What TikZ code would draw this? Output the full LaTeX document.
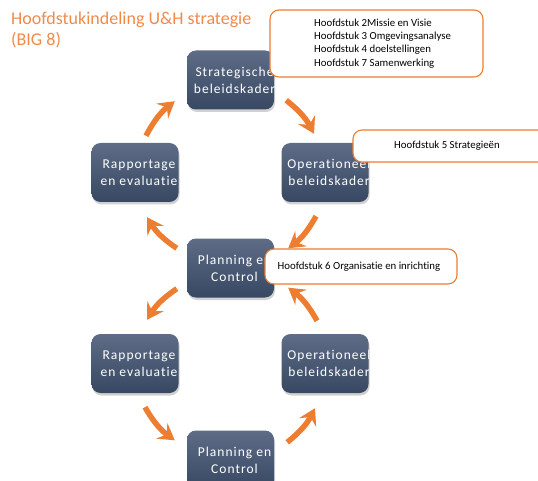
\documentclass[tikz,border=0pt]{standalone}
\usepackage{fontspec}
\setmainfont{Carlito}[Ligatures=NoCommon]
\newfontfamily\boxfont{Carlito}[LetterSpace=7.5,Ligatures=NoCommon]
\usepackage{tikz}
\usetikzlibrary{arrows.meta}
\tikzset{>=Stealth}
\definecolor{arrowcol}{HTML}{ED7D31}
\definecolor{titlecol}{HTML}{F08A4B}
\definecolor{boxtop}{HTML}{5E6C86}
\definecolor{boxbot}{HTML}{384862}
\tikzstyle{flow}=[-{Stealth[length=16pt,width=19pt,inset=6pt]},line width=5.5pt,arrowcol]
\tikzstyle{notebox}=[draw=arrowcol,line width=1.1pt,fill=white,rounded corners=9pt]
\tikzstyle{notetext}=[font=\fontsize{10.8}{13.2}\selectfont,align=left,inner sep=0pt]
\tikzset{
  stage/.style={rounded corners=9pt,minimum width=87pt,minimum height=59pt,
                top color=boxtop,bottom color=boxbot,
                path picture={\node[white,align=center,
                  font=\boxfont\fontsize{13.5}{17}\selectfont]
                  at ([xshift=4pt]path picture bounding box.center) {#1};}},
  shade/.style={fill=black,opacity=0.18,rounded corners=9pt,
                minimum width=87pt,minimum height=59pt}}

\begin{document}
\begin{tikzpicture}[x=1pt,y=-1pt]
  \useasboundingbox (0,0) rectangle (538,481);
  \clip (0,0) rectangle (538,481);

  % TITLE
  \node[titlecol,anchor=north west,align=left,inner sep=0pt,
        font=\fontsize{18}{20.5}\selectfont] (title) at (11,12)
    {Hoofdstukindeling U\&H strategie\\(BIG 8)};

  % SHADOWS
  \foreach \x/\y in {230.5/80,135/172.5,325/172.5,230.5/268,
                     135/363.5,325/363.5,230.5/460}{
    \node[shade] at (\x+1,\y+2.5) {};
  }

  % STAGES
  \node[stage={Strategische\\beleidskader}] (strat) at (230.5,80) {};
  \node[stage={Rapportage\\en evaluatie}] (rapA) at (135,172.5) {};
  \node[stage={Operationeel\\beleidskader}] (opA) at (325,172.5) {};
  \node[stage={Planning en\\Control}] (planA) at (230.5,268) {};
  \node[stage={Rapportage\\en evaluatie}] (rapB) at (135,363.5) {};
  \node[stage={Operationeel\\beleidskader}] (opB) at (325,363.5) {};
  \node[stage={Planning en\\Control}] (planB) at (230.5,460) {};

  % ARROWS (upper cycle)
  \draw[flow] ([shift={(11,-7)}]rapA.north) to[bend left=12] ([shift={(-12,-8.5)}]strat.south west);
  \draw[flow] ([shift={(12,-9.5)}]strat.south east) to[bend left=12] ([shift={(-11,-9)}]opA.north);
  \draw[flow] ([shift={(-9,14)}]opA.south) to[bend left=12] ([shift={(14,10)}]planA.north east);
  \draw[flow] ([shift={(-10,10)}]planA.north west) to[bend left=12] ([shift={(12,15)}]rapA.south);

  % ARROWS (lower cycle)
  \draw[flow] ([shift={(-10,-9)}]planA.south west) to[bend right=12] ([shift={(12,-14)}]rapB.north);
  \draw[flow] ([shift={(10,14)}]rapB.south) to[bend right=12] ([shift={(-12,10)}]planB.north west);
  \draw[flow] ([shift={(13,12)}]planB.north east) to[bend right=12] ([shift={(-10,15)}]opB.south);
  \draw[flow] ([shift={(-8,-13)}]opB.north) to[bend right=12] ([shift={(14,-10)}]planA.south east);

  % NOTES
  \node[notebox,minimum width=213pt,minimum height=67pt] (noteA) at (376.5,43.5) {};
  \node[notetext,anchor=west] (noteAtext) at ([xshift=44.5pt]noteA.west)
    {Hoofdstuk 2Missie en Visie\\Hoofdstuk 3 Omgevingsanalyse\\
     Hoofdstuk 4 doelstellingen\\Hoofdstuk 7 Samenwerking};
  \node[notebox,minimum width=217pt,minimum height=32pt] (noteB) at (461.5,146) {};
  \node[notetext] (noteBtext) at (447,145.5) {Hoofdstuk 5 Strategie\"en};
  \node[notebox,minimum width=192pt,minimum height=35pt] (noteC) at (361,266.5) {};
  \node[notetext,anchor=west] (noteCtext) at ([xshift=13pt]noteC.west)
    {Hoofdstuk 6 Organisatie en inrichting};
\end{tikzpicture}
\end{document}
